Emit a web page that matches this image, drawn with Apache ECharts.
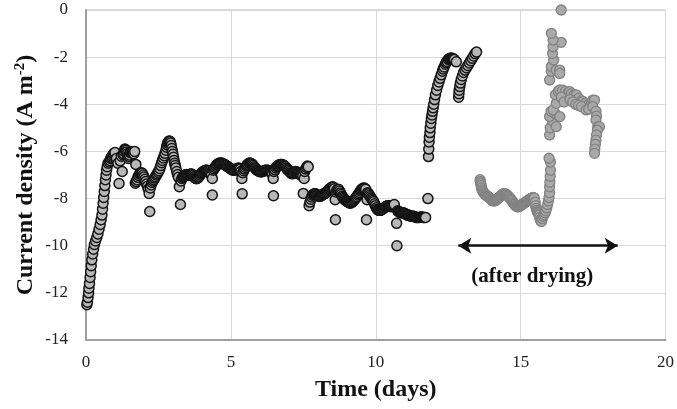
<!DOCTYPE html>
<html><head><meta charset="utf-8">
<script src="https://cdn.jsdelivr.net/npm/echarts@6/dist/echarts.min.js"></script>
<style>html,body{margin:0;padding:0;background:#fff}#c{width:677px;height:409px}</style>
</head><body><div id="c"></div>
<script>
// Before drying: [time (days), current density (A m-2)]
const beforeDrying = [
[0.03,-12.5],[0.05,-12.4],[0.07,-12.2],[0.09,-12.0],[0.1,-11.8],[0.12,-11.6],[0.14,-11.35],[0.16,-11.1],[0.18,-10.85],[0.2,-10.6],
[0.23,-10.35],[0.26,-10.15],[0.29,-9.95],[0.33,-9.8],[0.37,-9.65],[0.41,-9.5],[0.45,-9.3],[0.49,-9.1],[0.52,-8.9],[0.55,-8.7],
[0.57,-8.45],[0.59,-8.2],[0.61,-7.95],[0.63,-7.7],[0.65,-7.45],[0.67,-7.2],[0.69,-7.0],[0.71,-6.8],[0.73,-6.65],[0.76,-6.5],
[0.8,-6.45],[0.83,-6.38],[0.85,-6.3],[0.88,-6.25],[0.9,-6.2],[0.93,-6.15],[0.95,-6.1],[0.98,-6.07],[1.0,-6.05],[1.05,-6.3],[1.1,-6.5],[1.14,-7.36],[1.18,-6.4],[1.22,-6.2],
[1.25,-6.85],[1.28,-6.15],[1.3,-6.1],[1.32,-6.0],[1.34,-5.9],[1.36,-5.92],[1.38,-5.95],[1.4,-6.02],[1.42,-6.1],[1.44,-6.2],[1.46,-6.3],[1.48,-6.22],[1.5,-6.15],[1.53,-6.05],[1.55,-6.0],[1.58,-6.02],[1.6,-6.05],[1.63,-6.08],[1.65,-6.1],
[1.68,-6.0],[1.72,-6.55],
[1.7,-7.35],[1.73,-7.28],[1.76,-7.2],[1.79,-7.1],[1.82,-7.02],[1.85,-6.96],[1.88,-6.92],[1.91,-6.9],[1.94,-6.93],[1.97,-7.0],
[2.0,-7.08],[2.03,-7.18],[2.06,-7.28],[2.09,-7.38],[2.12,-7.48],[2.15,-7.6],[2.18,-7.78],[2.2,-8.55],
[2.22,-7.55],[2.25,-7.42],[2.28,-7.32],[2.31,-7.25],[2.34,-7.2],[2.37,-7.13],[2.4,-7.07],[2.43,-7.0],[2.46,-6.95],[2.49,-6.88],
[2.52,-6.82],[2.55,-6.72],[2.58,-6.6],[2.61,-6.48],[2.64,-6.38],[2.67,-6.28],[2.7,-6.18],[2.73,-6.08],[2.76,-5.95],[2.78,-5.82],
[2.8,-5.72],[2.82,-5.65],[2.84,-5.6],[2.86,-5.57],[2.88,-5.56],[2.9,-5.58],[2.92,-5.64],[2.94,-5.75],[2.96,-5.88],[2.98,-6.0],
[3.0,-6.12],[3.02,-6.25],[3.04,-6.38],[3.06,-6.5],[3.08,-6.6],[3.1,-6.7],[3.13,-6.85],[3.16,-6.98],[3.19,-7.1],[3.22,-7.5],[3.26,-8.25],
[3.28,-7.25],[3.31,-7.15],[3.34,-7.1],[3.37,-7.06],[3.4,-7.03],[3.43,-7.0],[3.46,-6.98],[3.49,-7.0],[3.52,-7.02],[3.55,-7.0],
[3.58,-6.98],[3.61,-6.96],[3.64,-6.96],[3.67,-6.98],[3.7,-7.02],[3.73,-7.07],[3.76,-7.12],[3.79,-7.15],[3.82,-7.16],[3.85,-7.14],
[3.88,-7.1],[3.91,-7.05],[3.94,-7.0],[3.97,-6.94],[4.0,-6.9],[4.03,-6.87],[4.06,-6.84],[4.09,-6.82],[4.12,-6.8],[4.15,-6.8],
[4.18,-6.8],[4.21,-6.82],[4.24,-6.85],[4.27,-6.9],[4.3,-6.95],[4.33,-7.0],[4.36,-7.85],[4.36,-7.15],
[4.39,-6.8],[4.42,-6.74],[4.45,-6.68],[4.48,-6.63],[4.51,-6.58],[4.54,-6.54],[4.57,-6.51],[4.6,-6.5],[4.63,-6.49],[4.66,-6.49],
[4.69,-6.5],[4.72,-6.51],[4.75,-6.53],[4.78,-6.55],[4.81,-6.58],[4.84,-6.6],[4.87,-6.63],[4.9,-6.65],[4.93,-6.68],[4.96,-6.7],
[4.99,-6.73],[5.02,-6.75],[5.05,-6.78],[5.08,-6.8],[5.11,-6.8],[5.14,-6.8],[5.17,-6.78],[5.2,-6.75],[5.23,-6.72],[5.26,-6.7],
[5.29,-6.72],[5.32,-6.76],[5.35,-6.85],[5.39,-7.8],[5.38,-7.15],
[5.41,-6.9],[5.44,-6.82],[5.47,-6.75],[5.5,-6.68],[5.53,-6.62],[5.56,-6.58],[5.59,-6.54],[5.62,-6.5],[5.65,-6.49],[5.68,-6.5],
[5.71,-6.52],[5.74,-6.55],[5.77,-6.6],[5.8,-6.65],[5.83,-6.7],[5.86,-6.74],[5.89,-6.78],[5.92,-6.8],[5.95,-6.83],[5.98,-6.85],
[6.01,-6.86],[6.04,-6.86],[6.07,-6.86],[6.1,-6.85],[6.13,-6.83],[6.16,-6.81],[6.19,-6.8],[6.22,-6.8],[6.25,-6.8],[6.28,-6.8],
[6.31,-6.82],[6.34,-6.85],[6.37,-6.88],[6.4,-6.9],[6.43,-6.95],[6.47,-7.88],[6.46,-7.15],
[6.49,-6.85],[6.52,-6.78],[6.55,-6.7],[6.58,-6.65],[6.61,-6.62],[6.64,-6.6],[6.67,-6.57],[6.7,-6.55],[6.73,-6.55],[6.76,-6.55],
[6.79,-6.57],[6.82,-6.6],[6.85,-6.62],[6.88,-6.65],[6.91,-6.7],[6.94,-6.75],[6.97,-6.78],[7.0,-6.8],[7.03,-6.85],[7.06,-6.9],
[7.09,-6.93],[7.12,-6.95],[7.15,-6.93],[7.18,-6.9],[7.21,-6.87],[7.24,-6.85],[7.27,-6.87],[7.3,-6.9],[7.33,-6.93],[7.36,-6.95],
[7.39,-6.98],[7.42,-7.0],[7.45,-7.03],[7.48,-7.05],[7.5,-7.78],[7.53,-7.15],[7.55,-6.85],[7.58,-6.75],[7.61,-6.68],[7.64,-6.62],[7.67,-6.65],
[7.7,-8.3],[7.73,-8.15],[7.76,-8.03],[7.79,-7.93],[7.82,-7.86],[7.85,-7.82],[7.88,-7.8],[7.91,-7.8],[7.94,-7.81],[7.97,-7.84],
[8.0,-7.87],[8.03,-7.9],[8.06,-7.91],[8.09,-7.9],[8.12,-7.88],[8.15,-7.85],[8.18,-7.83],[8.21,-7.8],[8.24,-7.78],[8.27,-7.76],
[8.3,-7.73],[8.33,-7.7],[8.36,-7.66],[8.39,-7.61],[8.42,-7.58],[8.45,-7.55],[8.48,-7.52],[8.51,-7.5],[8.54,-7.52],[8.57,-7.58],
[8.61,-8.9],[8.6,-8.05],
[8.63,-7.72],[8.66,-7.65],[8.69,-7.6],[8.72,-7.62],[8.75,-7.68],[8.78,-7.76],[8.81,-7.83],[8.84,-7.9],[8.87,-7.95],[8.9,-8.0],
[8.93,-8.04],[8.96,-8.08],[8.99,-8.1],[9.02,-8.12],[9.05,-8.15],[9.08,-8.17],[9.11,-8.2],[9.14,-8.19],[9.17,-8.16],[9.2,-8.13],
[9.23,-8.1],[9.26,-8.06],[9.29,-8.01],[9.32,-7.96],[9.35,-7.91],[9.38,-7.85],[9.41,-7.8],[9.44,-7.74],[9.47,-7.68],[9.5,-7.63],
[9.53,-7.59],[9.56,-7.56],[9.59,-7.55],[9.62,-7.56],[9.65,-7.6],[9.68,-8.9],[9.7,-8.05],
[9.72,-7.75],[9.75,-7.8],[9.78,-7.86],[9.81,-7.92],[9.84,-7.98],[9.87,-8.03],[9.9,-8.08],[9.93,-8.14],[9.96,-8.22],[9.99,-8.3],
[10.02,-8.39],[10.05,-8.45],[10.08,-8.48],[10.11,-8.5],[10.14,-8.5],[10.17,-8.5],[10.2,-8.47],[10.23,-8.45],[10.26,-8.42],[10.29,-8.4],
[10.32,-8.37],[10.35,-8.34],[10.38,-8.32],[10.41,-8.3],[10.44,-8.3],[10.47,-8.31],[10.5,-8.33],[10.53,-8.35],[10.56,-8.33],[10.59,-8.3],
[10.62,-8.28],[10.64,-8.25],[10.73,-10.0],[10.72,-9.05],
[10.76,-8.52],[10.79,-8.55],[10.82,-8.58],[10.85,-8.6],[10.88,-8.6],[10.91,-8.6],[10.94,-8.6],[10.97,-8.61],[11.0,-8.63],[11.03,-8.65],
[11.06,-8.68],[11.09,-8.7],[11.12,-8.7],[11.15,-8.71],[11.18,-8.73],[11.21,-8.75],[11.24,-8.75],[11.27,-8.75],[11.3,-8.75],[11.33,-8.76],
[11.36,-8.78],[11.39,-8.8],[11.42,-8.8],[11.45,-8.8],[11.48,-8.8],[11.51,-8.8],[11.54,-8.79],[11.57,-8.78],[11.6,-8.78],[11.63,-8.8],
[11.66,-8.8],[11.69,-8.8],[11.72,-8.8],
[11.8,-8.0],[11.82,-6.22],[11.83,-5.9],[11.84,-5.6],[11.85,-5.4],[11.87,-5.2],[11.88,-5.0],[11.9,-4.8],[11.92,-4.6],
[11.94,-4.45],[11.96,-4.3],[11.98,-4.15],[12.0,-4.0],[12.03,-3.8],[12.06,-3.6],[12.1,-3.4],[12.14,-3.2],[12.18,-3.05],
[12.22,-2.9],[12.26,-2.75],[12.3,-2.6],[12.33,-2.5],[12.36,-2.42],[12.4,-2.3],[12.43,-2.24],[12.46,-2.18],[12.5,-2.1],[12.53,-2.07],
[12.56,-2.05],[12.59,-2.05],[12.62,-2.05],[12.65,-2.05],[12.68,-2.08],[12.71,-2.1],[12.78,-2.2],
[12.86,-3.7],[12.87,-3.55],[12.88,-3.4],[12.9,-3.25],[12.92,-3.1],[12.95,-2.95],[12.99,-2.8],[13.03,-2.65],[13.08,-2.55],
[13.13,-2.45],[13.18,-2.35],[13.23,-2.25],[13.28,-2.15],[13.33,-2.05],[13.38,-1.95],[13.43,-1.85],[13.48,-1.78]
];
// After drying
const afterDrying = [
[13.6,-7.2],[13.61,-7.28],[13.62,-7.36],[13.64,-7.45],[13.65,-7.55],[13.67,-7.63],[13.7,-7.7],[13.73,-7.76],[13.76,-7.8],[13.79,-7.84],
[13.82,-7.87],[13.85,-7.9],[13.88,-7.92],[13.91,-7.95],[13.94,-7.98],[13.97,-8.02],[14.0,-8.06],[14.03,-8.09],[14.06,-8.1],[14.09,-8.1],
[14.12,-8.09],[14.15,-8.06],[14.18,-8.03],[14.21,-8.0],[14.24,-7.97],[14.27,-7.94],[14.3,-7.9],[14.33,-7.86],[14.36,-7.83],[14.39,-7.8],
[14.42,-7.79],[14.45,-7.79],[14.48,-7.8],[14.51,-7.83],[14.54,-7.86],[14.57,-7.9],[14.6,-7.94],[14.63,-7.98],[14.66,-8.03],[14.69,-8.08],
[14.72,-8.13],[14.75,-8.18],[14.78,-8.23],[14.81,-8.28],[14.84,-8.32],[14.87,-8.34],[14.9,-8.35],[14.93,-8.35],[14.96,-8.33],[14.99,-8.31],
[15.02,-8.28],[15.05,-8.25],[15.08,-8.23],[15.11,-8.2],[15.14,-8.18],[15.17,-8.15],[15.2,-8.12],[15.23,-8.1],[15.26,-8.07],[15.29,-8.05],
[15.32,-8.02],[15.35,-8.0],[15.38,-7.98],[15.41,-7.96],[15.44,-7.95],[15.47,-7.98],[15.5,-8.15],[15.52,-8.3],[15.54,-8.42],[15.56,-8.5],
[15.58,-8.56],[15.6,-8.6],[15.62,-8.65],[15.64,-8.7],[15.66,-8.8],[15.68,-8.9],[15.7,-8.95],[15.72,-8.97],[15.75,-8.85],[15.78,-8.75],
[15.81,-8.68],[15.84,-8.6],[15.87,-8.52],[15.9,-8.4],[15.93,-8.25],[15.96,-8.1],[15.98,-7.95],[16.0,-7.75],
[16.0,-7.5],[16.01,-7.3],[16.02,-7.05],[16.03,-6.8],[16.03,-6.45],[15.98,-6.29],
[16.0,-5.3],[16.02,-5.0],[16.1,-4.7],[16.0,-4.52],[16.2,-4.4],[16.05,-4.3],[16.12,-4.24],[16.23,-4.95],[16.35,-4.52],
[16.23,-3.96],[16.2,-3.6],[16.3,-3.45],[16.35,-3.39],[16.45,-3.4],[16.55,-3.45],[16.65,-3.5],[16.69,-3.46],[16.75,-3.55],
[16.85,-3.6],[16.92,-3.6],[17.0,-3.75],[17.1,-3.85],[17.15,-3.89],[17.25,-3.95],[17.35,-4.0],[17.45,-3.95],[17.49,-3.82],
[17.55,-3.82],[16.58,-3.82],[16.4,-3.7],[16.5,-3.9],[16.7,-3.8],[16.8,-3.9],[16.9,-4.0],[17.0,-4.05],[17.1,-4.1],
[17.26,-4.24],[17.35,-4.2],[17.49,-4.1],
[16.0,-2.97],[16.06,-2.6],[16.06,-2.4],[16.14,-2.12],[16.23,-2.55],[16.35,-2.55],[16.35,-2.69],[16.1,-1.84],[16.12,-1.56],
[16.4,-1.37],[16.12,-1.27],[16.06,-0.99],[16.4,0.0],
[17.6,-4.3],[17.62,-4.5],[17.6,-4.67],[17.66,-4.95],[17.72,-4.95],[17.65,-5.1],[17.62,-5.3],[17.6,-5.52],[17.58,-5.7],
[17.56,-5.9],[17.55,-6.08]
];
const xTicks = {min: 0, max: 20, step: 5};
const yTicks = {min: -14, max: 0, step: 2};
const arrowFrom = [12.85, -10];
const arrowTo = [18.35, -10];
const noteText = '(after drying)';
const notePos = [15.4, -11.3];

const chart = echarts.init(document.getElementById('c'), null, {renderer: 'canvas'});
const serif = '"Liberation Serif", "DejaVu Serif", serif';
chart.setOption({
  animation: false,
  grid: {left: 86, top: 10, right: 7, bottom: 69, show: true, borderColor: '#b5b5b5', borderWidth: 1, backgroundColor: '#fff'},
  xAxis: {
    type: 'value', min: xTicks.min, max: xTicks.max, interval: xTicks.step,
    name: 'Time (days)', nameLocation: 'middle', nameGap: 38, nameMoveOverlap: false,
    nameTextStyle: {fontFamily: serif, fontWeight: 'bold', fontSize: 24, color: '#111'},
    axisLine: {show: true, onZero: false, lineStyle: {color: '#a0a0a0', width: 2}},
    axisTick: {show: false},
    axisLabel: {fontFamily: serif, fontSize: 17, color: '#222', margin: 14},
    splitLine: {show: true, lineStyle: {color: '#d9d9d9', width: 1}}
  },
  yAxis: {
    type: 'value', min: yTicks.min, max: yTicks.max, interval: yTicks.step,
    name: '{a|Current density (A m}{s|-2}{a|)}', nameLocation: 'middle', nameGap: 47, nameRotate: 90,
    nameMoveOverlap: false,
    nameTextStyle: {
      fontFamily: serif, fontWeight: 'bold', fontSize: 24, color: '#111',
      rich: {
        a: {fontFamily: serif, fontWeight: 'bold', fontSize: 24, color: '#111', lineHeight: 26},
        s: {fontFamily: serif, fontWeight: 'bold', fontSize: 15, color: '#111', verticalAlign: 'top', lineHeight: 26}
      }
    },
    axisLine: {show: true, onZero: false, lineStyle: {color: '#a0a0a0', width: 2}},
    axisTick: {show: false},
    axisLabel: {fontFamily: serif, fontSize: 17, color: '#222', margin: 18},
    splitLine: {show: true, lineStyle: {color: '#d9d9d9', width: 1}}
  },
  series: [
    {
      type: 'scatter', data: beforeDrying, symbol: 'circle', symbolSize: 10,
      itemStyle: {color: '#b8b8b8', borderColor: '#141414', borderWidth: 1.5, opacity: 1},
      z: 3
    },
    {
      type: 'scatter', data: afterDrying, symbol: 'circle', symbolSize: 10,
      itemStyle: {color: '#a9a9a9', borderColor: '#828282', borderWidth: 1.3, opacity: 1},
      z: 3,
      markLine: {
        silent: true, symbol: ['arrow', 'arrow'], symbolSize: [12, 13],
        lineStyle: {color: '#111', width: 2.5, type: 'solid'},
        label: {show: false},
        data: [[{coord: arrowFrom}, {coord: arrowTo}]]
      },
      markPoint: {
        silent: true, symbol: 'circle', symbolSize: 0,
        itemStyle: {color: 'rgba(0,0,0,0)'},
        label: {show: true, position: 'inside', formatter: noteText,
          fontFamily: serif, fontWeight: 'bold', fontSize: 21, color: '#111'},
        data: [{coord: notePos}]
      }
    }
  ]
});
</script>
</body></html>
